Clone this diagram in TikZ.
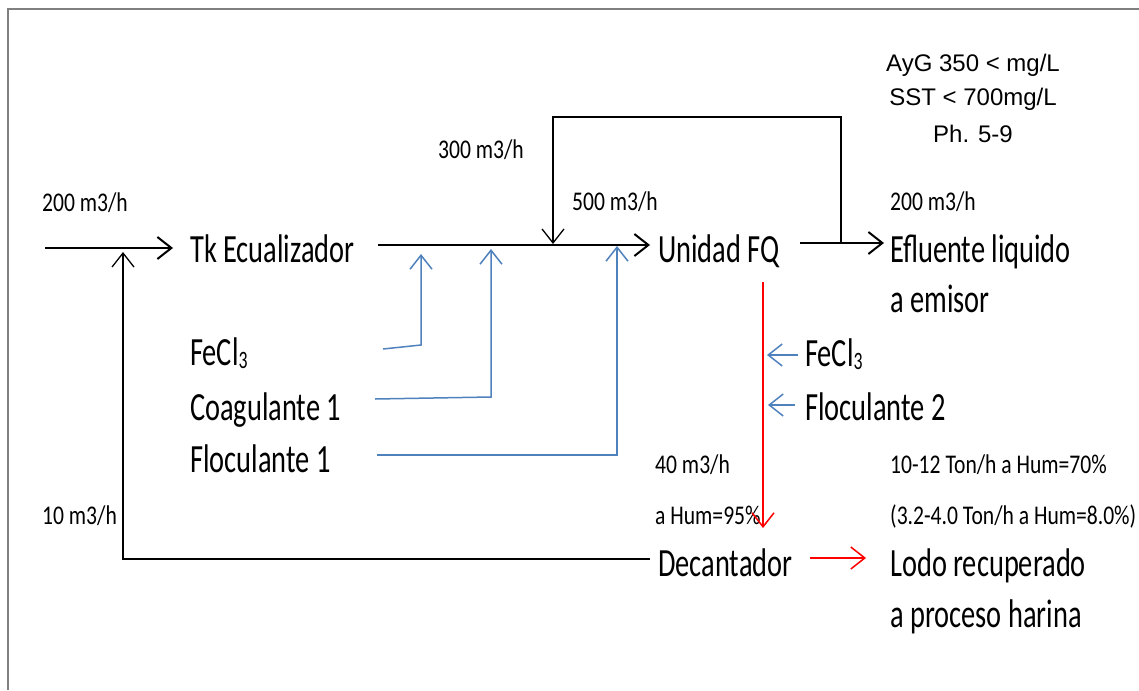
\documentclass[tikz,border=0pt]{standalone}
\usepackage{fontspec}
\setmainfont{Carlito}
\newfontfamily\bigf{Carlito}[FakeStretch=0.71]
\newfontfamily\smf{Carlito}[FakeStretch=0.8]
\newfontfamily\arialf{Liberation Sans}
\usetikzlibrary{arrows.meta}
\definecolor{chemblue}{RGB}{79,129,189}
\definecolor{framegray}{RGB}{128,128,128}
\newcommand{\subthr}{\raisebox{-3pt}{\fontsize{25}{30}\selectfont 3}}
\begin{document}
\begin{tikzpicture}[x=1pt,y=-1pt,
  lbl/.style={inner sep=0pt, anchor=base west, font=\bigf\fontsize{40}{48}\selectfont},
  slbl/.style={inner sep=0pt, anchor=base west, font=\smf\fontsize{27}{32}\selectfont},
  spec/.style={inner sep=0pt, anchor=base, font=\arialf\fontsize{24}{30}\selectfont},
  tipv/.style={-{Straight Barb[length=14pt,width=22pt]}},
  mainflow/.style={tipv, line width=2pt, black},
  recflow/.style={line width=1.3pt, black},
  chem/.style={line width=1.5pt, draw=chemblue},
  sludge/.style={line width=1.5pt, draw=red}]
\useasboundingbox (0,0) rectangle (1139,690);
% frame
\draw[framegray, line width=2pt] (8,690) -- (8,9) -- (1139,9);

% main labels
\node[lbl] (tk) at (190,262) {Tk Ecualizador};
\node[lbl] (fq) at (658,262) {Unidad FQ};
\node[lbl] (ef1) at (890,262) {Efluente liquido};
\node[lbl] (ef2) at (890,312) {a emisor};
\node[lbl] (fe1) at (190,365) {FeCl\subthr};
\node[lbl] (co1) at (190,420) {Coagulante 1};
\node[lbl] (fl1) at (190,472) {Floculante 1};
\node[lbl] (fe2) at (805,366) {FeCl\subthr};
\node[lbl] (fl2) at (805,420) {Floculante 2};
\node[lbl] (dec) at (658,576) {Decantador};
\node[lbl] (lo1) at (890,576) {Lodo recuperado};
\node[lbl] (lo2) at (890,627) {a proceso harina};

% flow labels
\node[slbl] (q1) at (42,211) {200 m3/h};
\node[slbl] (q2) at (438,158) {300 m3/h};
\node[slbl] (q3) at (572,210) {500 m3/h};
\node[slbl] (q4) at (890,210) {200 m3/h};
\node[slbl] (q5) at (655,473) {40 m3/h};
\node[slbl] (q6) at (655,524) {a Hum=95\%};
\node[slbl] (q7) at (890,473) {10-12 Ton/h a Hum=70\%};
\node[slbl] (q8) at (890,524) {(3.2-4.0 Ton/h a Hum=8.0\%)};
\node[slbl] (q9) at (42,524) {10 m3/h};

% specification
\node[spec] (s1) at (973,72) {AyG 350 < mg/L};
\node[spec] (s2) at (973,106) {SST < 700mg/L};
\node[spec] (s3) at (973,142) {Ph. 5-9};

% coordinates
\coordinate (inS) at (45,248);   \coordinate (inE) at (173,248);
\coordinate (mS) at (378,245);   \coordinate (mE) at (650,245);
\coordinate (oS) at (800,243);   \coordinate (oE) at (884,243);
\coordinate (jn) at (841,243);   \coordinate (rTR) at (841,117);
\coordinate (rTL) at (553,117);  \coordinate (rTip) at (553,244);
\coordinate (rcB) at (650,559);  \coordinate (rcC) at (123,559);
\coordinate (rcTip) at (123,252);
\coordinate (feA) at (383,349);  \coordinate (feB) at (421,345); \coordinate (feT) at (421,254);
\coordinate (coA) at (375,399);  \coordinate (coB) at (491,397); \coordinate (coT) at (491,249);
\coordinate (flA) at (377,455);  \coordinate (flB) at (617,455); \coordinate (flT) at (617,246);
\coordinate (rdS) at (763,282);  \coordinate (rdE) at (763,528);
\coordinate (rhS) at (810,558);  \coordinate (rhE) at (866,558);
\coordinate (b1S) at (798,355);  \coordinate (b1E) at (767,355);
\coordinate (b2S) at (795,405);  \coordinate (b2E) at (768,405);

% black flows
\draw[mainflow] (inS) -- (inE);
\draw[mainflow] (mS) -- (mE);
\draw[mainflow] (oS) -- (oE);
\draw[recflow, tipv] (jn) -- (rTR) -- (rTL) -- (rTip);
\draw[recflow, tipv] (rcB) -- (rcC) -- (rcTip);

% chemicals
\draw[chem, tipv] (feA) -- (feB) -- (feT);
\draw[chem, tipv] (coA) -- (coB) -- (coT);
\draw[chem, tipv] (flA) -- (flB) -- (flT);
\draw[chem, tipv] (b1S) -- (b1E);
\draw[chem, tipv] (b2S) -- (b2E);

% sludge
\draw[sludge, tipv] (rdS) -- (rdE);
\draw[sludge, tipv] (rhS) -- (rhE);
\end{tikzpicture}
\end{document}
